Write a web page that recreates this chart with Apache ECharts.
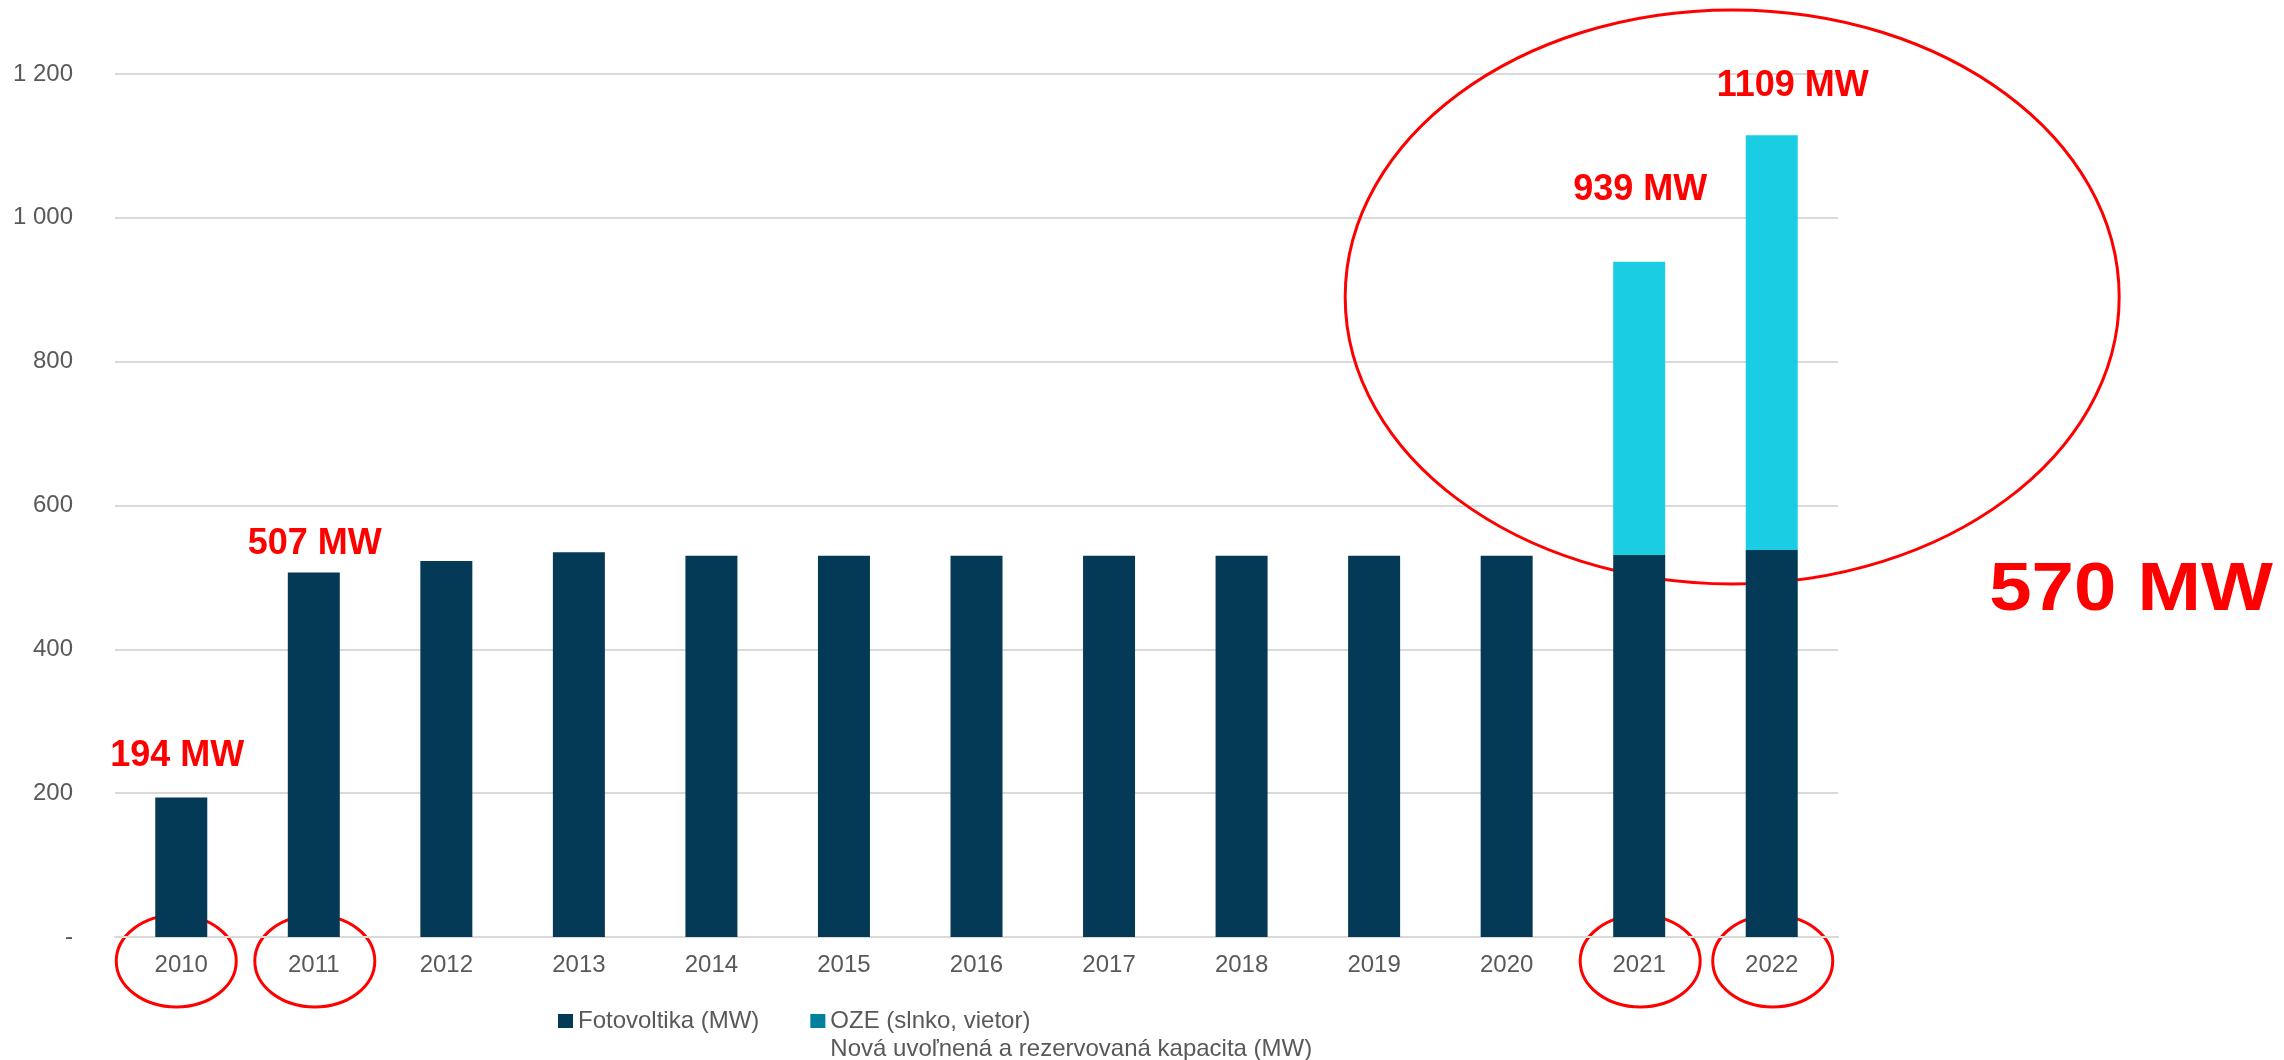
<!DOCTYPE html>
<html>
<head>
<meta charset="utf-8">
<title>Fotovoltika / OZE</title>
<script src="https://cdn.jsdelivr.net/npm/echarts@6/dist/echarts.min.js"></script>
<style>
    html, body { margin: 0; padding: 0; background: #fff; }
    #chart { width: 2284px; height: 1060px; }
</style>
</head>
<body>
<div id="chart"></div>
<script>
// data
var years = ['2010', '2011', '2012', '2013', '2014', '2015', '2016', '2017', '2018', '2019', '2020', '2021', '2022'];
var fotovoltika = [194, 507, 523, 535, 530, 530, 530, 530, 530, 530, 530, 531, 538];
var oze = [null, null, null, null, null, null, null, null, null, null, null, 408, 577];
var yTickLabels = ['-', '200', '400', '600', '800', '1 000', '1 200'];

// red notes on top of some bars
var noteYears = ['2010', '2011', '2021', '2022'];
var noteTexts = ['194 MW', '507 MW', '939 MW', '1109 MW'];
var bigNote = '570 MW';

var seriesNames = ['Fotovoltika (MW)', 'OZE (slnko, vietor)\nNová uvoľnená a rezervovaná kapacita (MW)'];

var fontName = '"Liberation Sans", Arial, sans-serif';
var grayText = '#595959';

var chart = echarts.init(document.getElementById('chart'));

chart.setOption({
    animation: false,
    grid: {
        left: 115,
        right: 446,
        top: 74,
        bottom: 123
    },
    legend: {
        left: 558,
        top: 979,
        padding: 0,
        itemGap: 51,
        itemWidth: 15,
        itemHeight: 14,
        icon: 'rect',
        selectedMode: false,
        textStyle: {
            color: grayText,
            fontSize: 24,
            fontFamily: fontName,
            lineHeight: 28
        },
        // legend text is centred on the marker, so push the two-line name down one line
        formatter: function (name) {
            return name === seriesNames[1] ? ' \n' + name : name;
        },
        data: [
            { name: seriesNames[0], itemStyle: { color: '#043a55' } },
            { name: seriesNames[1], itemStyle: { color: '#00809a' } }
        ]
    },
    xAxis: {
        type: 'category',
        data: years,
        axisLine: { lineStyle: { color: '#d9d9d9', width: 2 } },
        axisTick: { show: false },
        axisLabel: {
            color: grayText,
            fontSize: 24,
            fontFamily: fontName,
            margin: 16
        }
    },
    yAxis: {
        type: 'value',
        min: 0,
        max: 1200,
        interval: 200,
        axisLine: { show: false },
        axisTick: { show: false },
        splitLine: { lineStyle: { color: '#d9d9d9', width: 2 } },
        axisLabel: {
            color: grayText,
            fontSize: 24,
            fontFamily: fontName,
            margin: 42,
            formatter: function (v) {
                return yTickLabels[Math.round(v / 200)];
            }
        }
    },
    series: [{
        name: seriesNames[0],
        type: 'bar',
        stack: 'total',
        barWidth: 52,
        data: fotovoltika,
        itemStyle: { color: '#043a55' }
    }, {
        name: seriesNames[1],
        type: 'bar',
        stack: 'total',
        barWidth: 52,
        data: oze,
        itemStyle: { color: '#1bcde3' }
    }]
});

// annotation layer, placed through the axes
function totalOf(i) {
    return (fotovoltika[i] || 0) + (oze[i] || 0);
}
function px(i, v) {
    return chart.convertToPixel({ gridIndex: 0 }, [i, v]);
}

var noteShift = {
    '2010': [-4, -41],
    '2011': [1, -28],
    '2021': [1, -72],
    '2022': [21, -49]
};

var graphics = [];
for (var k = 0; k < noteYears.length; k++) {
    var idx = years.indexOf(noteYears[k]);
    var p = px(idx, totalOf(idx));
    var sh = noteShift[noteYears[k]];
    graphics.push({
        type: 'text',
        x: p[0] + sh[0],
        y: p[1] + sh[1],
        style: {
            text: noteTexts[k],
            fill: '#ff0000',
            fontSize: 36,
            fontWeight: 'bold',
            fontFamily: fontName,
            align: 'center',
            verticalAlign: 'middle'
        }
    });

    // circle round the year label
    var base = px(idx, 0);
    graphics.push({
        type: 'ellipse',
        shape: { cx: base[0] + (idx === 0 ? -5 : 1), cy: base[1] + 24, rx: 60, ry: 46 },
        style: { fill: null, stroke: '#ff0000', lineWidth: 3 }
    });
}

// big ellipse round the 2021/2022 growth
var i21 = years.indexOf('2021');
var c = px(i21, 890);
graphics.push({
    type: 'ellipse',
    shape: { cx: c[0] + 93, cy: c[1], rx: 387, ry: 287 },
    style: { fill: null, stroke: '#ff0000', lineWidth: 3 }
});

graphics.push({
    type: 'text',
    x: 2131,
    y: 591,
    scaleX: 1.12,
    originX: 0,
    originY: 0,
    style: {
        text: bigNote,
        fill: '#ff0000',
        fontSize: 68,
        fontWeight: 'bold',
        fontFamily: fontName,
        align: 'center',
        verticalAlign: 'middle'
    }
});

chart.setOption({ graphic: graphics });
</script>
</body>
</html>
